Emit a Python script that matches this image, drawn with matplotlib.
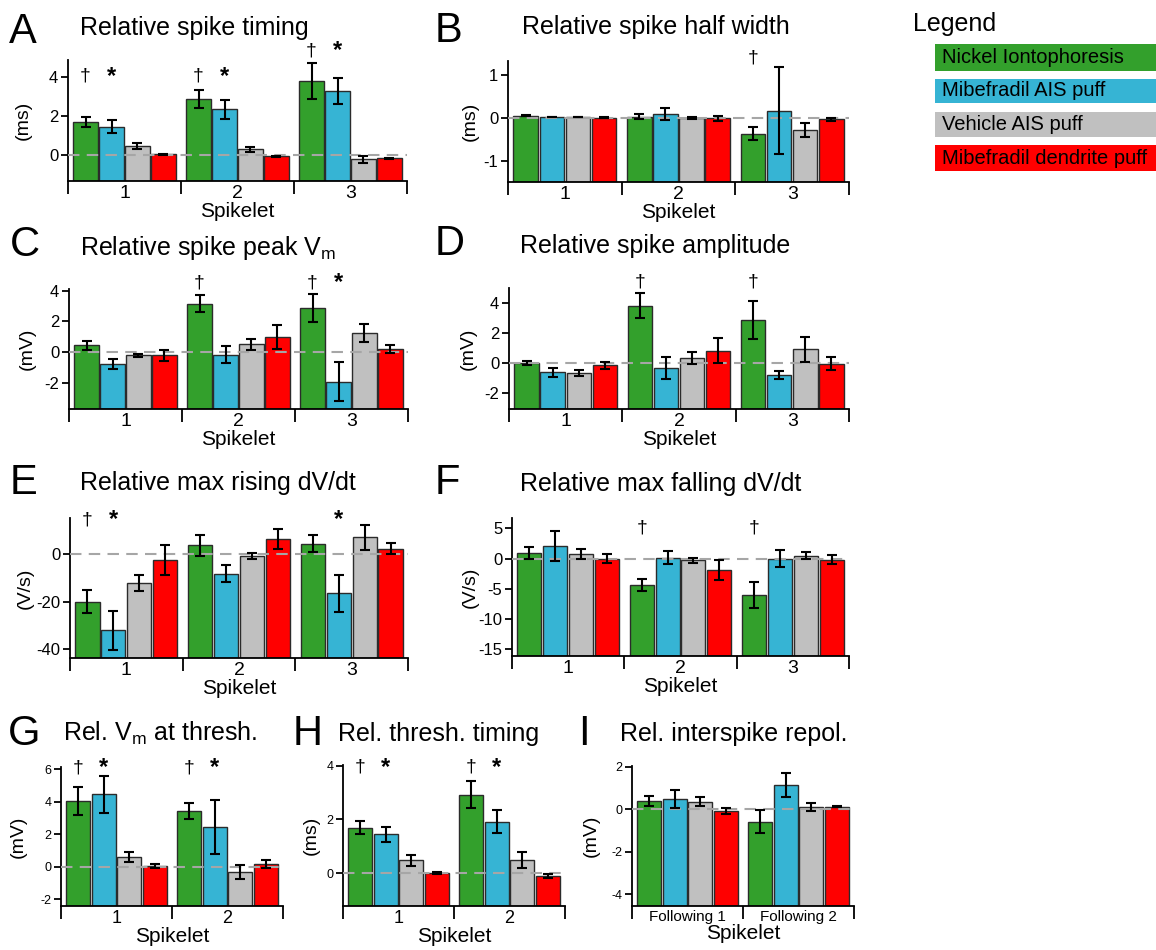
import matplotlib
matplotlib.use('Agg')
import matplotlib.pyplot as plt
from matplotlib.patches import Rectangle
import numpy as np

plt.rcParams['font.family'] = ['Liberation Sans', 'DejaVu Sans']
plt.rcParams['mathtext.default'] = 'regular'

# ---------------- data ----------------
series_names = ['Nickel Iontophoresis', 'Mibefradil AIS puff', 'Vehicle AIS puff', 'Mibefradil dendrite puff']
colors = ['#33a02c', '#36b4d4', '#c0c0c0', '#ff0000']

cats3 = ['1', '2', '3']
cats2 = ['1', '2']
cats_following = ['Following 1', 'Following 2']

# A: Relative spike timing (ms)
timing_mean = [[1.68, 2.88, 3.83], [1.46, 2.35, 3.30], [0.46, 0.28, -0.22], [0.04, -0.07, -0.17]]
timing_err = [[0.25, 0.48, 0.92], [0.32, 0.50, 0.68], [0.16, 0.12, 0.18], [0.03, 0.02, 0.02]]
# B: Relative spike half width (ms)
halfwidth_mean = [[0.04, 0.02, -0.37], [0.015, 0.08, 0.16], [0.01, -0.01, -0.29], [0.0, -0.02, -0.04]]
halfwidth_err = [[0.01, 0.06, 0.16], [0.0, 0.14, 1.01], [0.0, 0.02, 0.16], [0.01, 0.06, 0.035]]
# C: Relative spike peak Vm (mV)
peak_mean = [[0.43, 3.14, 2.86], [-0.78, -0.17, -1.93], [-0.22, 0.50, 1.23], [-0.22, 0.97, 0.19]]
peak_err = [[0.27, 0.55, 0.93], [0.30, 0.57, 1.27], [0.08, 0.35, 0.58], [0.38, 0.80, 0.27]]
# D: Relative spike amplitude (mV)
amp_mean = [[0.0, 3.82, 2.88], [-0.62, -0.33, -0.80], [-0.64, 0.33, 0.92], [-0.15, 0.84, -0.03]]
amp_err = [[0.13, 0.82, 1.26], [0.30, 0.73, 0.28], [0.19, 0.41, 0.84], [0.26, 0.83, 0.42]]
# E: Relative max rising dV/dt (V/s)
rise_mean = [[-20.0, 3.7, 4.4], [-32.0, -8.2, -16.5], [-12.3, -0.85, 7.0], [-2.4, 6.3, 2.25]]
rise_err = [[4.8, 4.4, 3.5], [8.2, 3.7, 7.9], [3.4, 1.4, 5.1], [6.2, 4.1, 2.25]]
# F: Relative max falling dV/dt (V/s)
fall_mean = [[0.94, -4.42, -6.0], [2.1, 0.17, 0.0], [0.77, -0.28, 0.5], [0.0, -1.93, -0.17]]
fall_err = [[1.0, 1.0, 2.1], [2.5, 1.13, 1.4], [0.88, 0.4, 0.58], [0.72, 1.66, 0.78]]
# G: Rel. Vm at thresh. (mV)
vthr_mean = [[4.06, 3.45], [4.47, 2.46], [0.64, -0.31], [0.04, 0.18]]
vthr_err = [[0.89, 0.51], [1.13, 1.64], [0.31, 0.45], [0.13, 0.26]]
# H: Rel. thresh. timing (ms)
tthr_mean = [[1.69, 2.92], [1.45, 1.92], [0.47, 0.49], [0.01, -0.11]]
tthr_err = [[0.25, 0.50], [0.28, 0.42], [0.19, 0.31], [0.04, 0.06]]
# I: Rel. interspike repol. (mV)
repol_mean = [[0.40, -0.59], [0.48, 1.13], [0.35, 0.10], [-0.10, 0.11]]
repol_err = [[0.24, 0.54], [0.43, 0.58], [0.22, 0.18], [0.13, 0.03]]

# significance marks: (category index, series index, symbol, y)
timing_marks = [(0, 0, '†', 4.07), (0, 1, '*', 4.07), (1, 0, '†', 4.07), (1, 1, '*', 4.07),
                (2, 0, '†', 5.38), (2, 1, '*', 5.38)]
halfwidth_marks = [(2, 0, '†', 1.4)]
peak_marks = [(1, 0, '†', 4.5), (2, 0, '†', 4.5), (2, 1, '*', 4.5)]
amp_marks = [(1, 0, '†', 5.4), (2, 0, '†', 5.4)]
rise_marks = [(0, 0, '†', 14.5), (0, 1, '*', 14.5), (2, 1, '*', 14.5)]
fall_marks = [(1, 0, '†', 5.1), (2, 0, '†', 5.1)]
vthr_marks = [(0, 0, '†', 6.1), (0, 1, '*', 6.1), (1, 0, '†', 6.1), (1, 1, '*', 6.1)]
tthr_marks = [(0, 0, '†', 3.95), (0, 1, '*', 3.95), (1, 0, '†', 3.95), (1, 1, '*', 3.95)]
repol_marks = []

# ---------------- figure ----------------
W, H = 1156, 950
fig = plt.figure(figsize=(W / 100, H / 100), dpi=100)

offsets = [-0.345, -0.115, 0.115, 0.345]


def add_ax(l, r, t, b):
    return fig.add_axes([l / W, 1 - b / H, (r - l) / W, (b - t) / H])


def panel(box, cats, means, errs, ylim, yticks, marks, ylabel, ylabel_x,
          letter, letter_xy, title, title_xy, small=False, xtick_fs=14):
    l, r, t, b = box
    ax = add_ax(l, r, t, b)
    n = len(cats)
    x = np.arange(1, n + 1)
    for k in range(4):
        m = np.array(means[k])
        e = np.array(errs[k])
        ax.bar(x + offsets[k], m - ylim[0], bottom=ylim[0], width=0.215,
               color=colors[k], edgecolor='#2b2b2b', linewidth=1.0, zorder=2)
        ax.errorbar(x + offsets[k], m, yerr=e, fmt='none', ecolor='black',
                    elinewidth=1.5, capsize=3.5, capthick=1.5, zorder=4)
    ax.axhline(0, color='#a6a6a6', lw=1.5, dashes=(5.5, 3.5), zorder=3)
    ax.set_xlim(0.5, n + 0.5)
    ax.set_ylim(*ylim)
    for s in ['top', 'right']:
        ax.spines[s].set_visible(False)
    for s in ['left', 'bottom']:
        ax.spines[s].set_linewidth(1.3)
    ax.set_yticks(yticks)
    ax.set_yticklabels([str(v) for v in yticks])
    ax.tick_params(axis='y', direction='out', length=5, width=1.3,
                   labelsize=9 if small else 12, pad=2)
    ax.set_xticks(np.arange(0.5, n + 1, 1.0))
    ax.set_xticklabels([])
    ax.tick_params(axis='x', which='major', direction='out', length=9, width=1.3)
    ax.set_xticks(x, minor=True)
    ax.set_xticklabels(cats, minor=True)
    ax.tick_params(axis='x', which='minor', length=0, labelsize=xtick_fs, pad=3)
    ax.set_xlabel('Spikelet', fontsize=15, labelpad=0)
    for ci, si, sym, y in marks:
        if sym == '*':
            ax.text(ci + 1 + offsets[si], y, sym, ha='center', va='center',
                    fontsize=17, fontweight='bold', zorder=5)
        else:
            ax.text(ci + 1 + offsets[si], y, sym, ha='center', va='center',
                    fontsize=14, zorder=5)
    fig.text(ylabel_x / W, 1 - (t + b) / 2 / H, ylabel, rotation=90,
             ha='center', va='center', fontsize=14)
    fig.text(letter_xy[0] / W, 1 - letter_xy[1] / H, letter, fontsize=30,
             ha='left', va='baseline')
    fig.text(title_xy[0] / W, 1 - title_xy[1] / H, title, fontsize=18,
             ha='left', va='baseline')
    return ax


panel((68, 407, 60, 181), cats3, timing_mean, timing_err, (-1.35, 4.9), [0, 2, 4],
      timing_marks, '(ms)', 23, 'A', (9, 43), 'Relative spike timing', (80, 35))
panel((508, 849, 61, 182), cats3, halfwidth_mean, halfwidth_err, (-1.5, 1.32), [-1, 0, 1],
      halfwidth_marks, '(ms)', 470, 'B', (435, 42), 'Relative spike half width', (522, 34))
panel((69, 408, 289, 409), cats3, peak_mean, peak_err, (-3.7, 4.1), [-2, 0, 2, 4],
      peak_marks, '(mV)', 27, 'C', (10, 256), 'Relative spike peak V$_{m}$', (80, 255))
panel((509, 849, 288, 409), cats3, amp_mean, amp_err, (-3.05, 5.0), [-2, 0, 2, 4],
      amp_marks, '(mV)', 468, 'D', (435, 255), 'Relative spike amplitude', (520, 253))
panel((70, 408, 518, 658), cats3, rise_mean, rise_err, (-43.7, 15.2), [-40, -20, 0],
      rise_marks, '(V/s)', 25, 'E', (10, 494), 'Relative max rising dV/dt', (80, 490))
panel((512, 849, 518, 656), cats3, fall_mean, fall_err, (-16.1, 6.7), [-15, -10, -5, 0, 5],
      fall_marks, '(V/s)', 470, 'F', (435, 494), 'Relative max falling dV/dt', (520, 491))
panel((61, 283, 767, 906), cats2, vthr_mean, vthr_err, (-2.4, 6.15), [-2, 0, 2, 4, 6],
      vthr_marks, '(mV)', 18, 'G', (8, 745), 'Rel. V$_{m}$ at thresh.', (63, 741),
      small=True, xtick_fs=13)
panel((343, 565, 765, 906), cats2, tthr_mean, tthr_err, (-1.23, 4.03), [0, 2, 4],
      tthr_marks, '(ms)', 311, 'H', (293, 745), 'Rel. thresh. timing', (338, 741),
      small=True, xtick_fs=13)
panel((632, 854, 766, 906), cats_following, repol_mean, repol_err, (-4.56, 2.03), [-4, -2, 0, 2],
      repol_marks, '(mV)', 591, 'I', (578, 745), 'Rel. interspike repol.', (620, 741),
      small=True, xtick_fs=11)

# ---------------- legend ----------------
fig.text(913 / W, 1 - 31 / H, 'Legend', fontsize=18, ha='left', va='baseline')
box_tops = [44, 79, 112, 145]
box_bottoms = [71, 103, 137, 171]
for k in range(4):
    t, b = box_tops[k], box_bottoms[k]
    fig.patches.append(Rectangle((935 / W, 1 - b / H), (W - 935) / W, (b - t) / H,
                                 transform=fig.transFigure, facecolor=colors[k],
                                 edgecolor='none', zorder=1))
    fig.text(942 / W, 1 - (t + b) / 2 / H, series_names[k], fontsize=14.5,
             ha='left', va='center', zorder=2)

fig.savefig('out.png', dpi=100)
